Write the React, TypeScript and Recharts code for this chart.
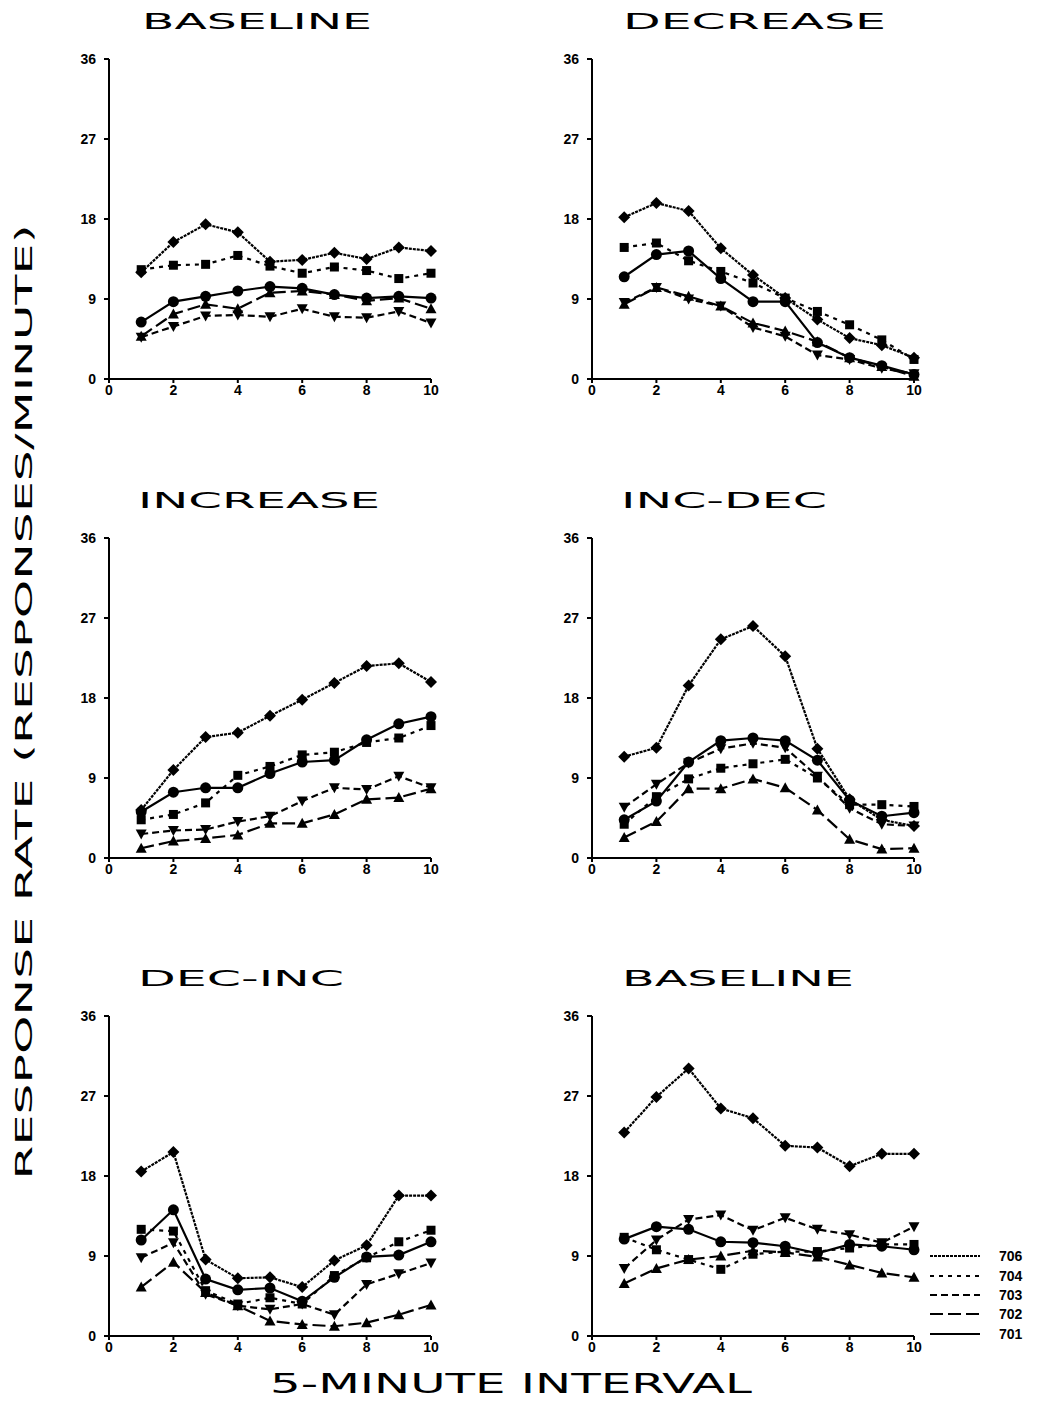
import React from 'react'
import { LineChart, Line, XAxis, YAxis } from 'recharts'

const INTERVALS = [1, 2, 3, 4, 5, 6, 7, 8, 9, 10]
const X_TICKS = [0, 2, 4, 6, 8, 10]
const Y_TICKS = [0, 9, 18, 27, 36]
const SUBJECTS = ['706', '704', '703', '702', '701']

// baseline (first)
const BASE1_706 = [12.0, 15.4, 17.4, 16.5, 13.2, 13.4, 14.2, 13.5, 14.8, 14.4]
const BASE1_704 = [12.3, 12.8, 12.9, 13.9, 12.7, 11.9, 12.6, 12.2, 11.3, 11.9]
const BASE1_703 = [4.7, 5.9, 7.1, 7.2, 7.0, 7.9, 7.0, 6.9, 7.6, 6.3]
const BASE1_702 = [4.8, 7.3, 8.4, 7.9, 9.7, 9.9, 9.5, 8.8, 9.1, 7.9]
const BASE1_701 = [6.4, 8.7, 9.3, 9.9, 10.4, 10.2, 9.5, 9.1, 9.3, 9.1]

// decrease
const DEC_706 = [18.2, 19.8, 18.9, 14.7, 11.7, 9.1, 6.7, 4.6, 3.8, 2.4]
const DEC_704 = [14.8, 15.3, 13.3, 12.1, 10.8, 9.1, 7.6, 6.1, 4.4, 2.2]
const DEC_703 = [8.6, 10.3, 9.0, 8.2, 5.8, 4.8, 2.7, 2.2, 1.2, 0.6]
const DEC_702 = [8.4, 10.3, 9.3, 8.2, 6.3, 5.4, 4.2, 2.4, 1.4, 0.3]
const DEC_701 = [11.5, 14.0, 14.4, 11.3, 8.7, 8.7, 4.1, 2.4, 1.5, 0.5]

// increase
const INC_706 = [5.4, 9.9, 13.6, 14.1, 16.0, 17.8, 19.7, 21.6, 21.9, 19.8]
const INC_704 = [4.3, 4.9, 6.2, 9.3, 10.3, 11.6, 11.9, 13.0, 13.5, 14.9]
const INC_703 = [2.7, 3.1, 3.2, 4.1, 4.7, 6.4, 7.9, 7.7, 9.2, 7.9]
const INC_702 = [1.1, 1.9, 2.2, 2.6, 3.9, 3.9, 4.9, 6.6, 6.8, 7.8]
const INC_701 = [5.2, 7.4, 7.9, 7.9, 9.5, 10.8, 11.0, 13.3, 15.1, 15.9]

// inc-dec
const INCDEC_706 = [11.4, 12.4, 19.4, 24.6, 26.1, 22.7, 12.3, 6.6, 4.3, 3.6]
const INCDEC_704 = [3.8, 6.9, 8.9, 10.1, 10.6, 11.1, 9.0, 6.0, 6.0, 5.8]
const INCDEC_703 = [5.7, 8.3, 10.7, 12.3, 12.9, 12.4, 9.2, 5.6, 3.8, 3.6]
const INCDEC_702 = [2.3, 4.1, 7.8, 7.8, 8.9, 7.9, 5.4, 2.1, 1.0, 1.1]
const INCDEC_701 = [4.3, 6.4, 10.8, 13.2, 13.5, 13.2, 11.0, 6.5, 4.7, 5.1]

// dec-inc
const DECINC_706 = [18.5, 20.7, 8.6, 6.5, 6.6, 5.5, 8.5, 10.2, 15.8, 15.8]
const DECINC_704 = [12.0, 11.8, 5.1, 3.6, 4.3, 3.6, 6.8, 8.8, 10.6, 11.9]
const DECINC_703 = [8.8, 10.5, 4.7, 3.4, 3.0, 3.6, 2.4, 5.8, 7.0, 8.2]
const DECINC_702 = [5.5, 8.3, 4.9, 3.4, 1.7, 1.3, 1.1, 1.5, 2.4, 3.5]
const DECINC_701 = [10.8, 14.2, 6.4, 5.2, 5.4, 3.9, 6.6, 8.9, 9.1, 10.6]

// baseline (return)
const BASE2_706 = [22.9, 26.9, 30.1, 25.6, 24.5, 21.4, 21.2, 19.1, 20.5, 20.5]
const BASE2_704 = [11.1, 9.7, 8.6, 7.5, 9.2, 9.5, 9.5, 9.9, 10.3, 10.3]
const BASE2_703 = [7.6, 10.8, 13.1, 13.6, 11.9, 13.3, 12.0, 11.4, 10.5, 12.3]
const BASE2_702 = [5.9, 7.6, 8.6, 9.0, 9.6, 9.4, 8.9, 8.0, 7.1, 6.6]
const BASE2_701 = [10.9, 12.3, 12.0, 10.6, 10.5, 10.1, 9.3, 10.3, 10.1, 9.7]

const panels = [
  { title: 'BASELINE', left: 60, top: 40, tx: 142, tw: 230, series: [BASE1_706, BASE1_704, BASE1_703, BASE1_702, BASE1_701] },
  { title: 'DECREASE', left: 543, top: 40, tx: 623, tw: 263, series: [DEC_706, DEC_704, DEC_703, DEC_702, DEC_701] },
  { title: 'INCREASE', left: 60, top: 519, tx: 138, tw: 242, series: [INC_706, INC_704, INC_703, INC_702, INC_701] },
  { title: 'INC-DEC', left: 543, top: 519, tx: 621, tw: 206, series: [INCDEC_706, INCDEC_704, INCDEC_703, INCDEC_702, INCDEC_701] },
  { title: 'DEC-INC', left: 60, top: 997, tx: 138, tw: 206, series: [DECINC_706, DECINC_704, DECINC_703, DECINC_702, DECINC_701] },
  { title: 'BASELINE', left: 543, top: 997, tx: 622, tw: 232, series: [BASE2_706, BASE2_704, BASE2_703, BASE2_702, BASE2_701] },
]

const lineStyle: Record<string, { dash?: string; shape: string }> = {
  '706': { dash: '3 1', shape: 'diamond' },
  '704': { dash: '4 5', shape: 'square' },
  '703': { dash: '7 4', shape: 'down' },
  '702': { dash: '13 5', shape: 'up' },
  '701': { shape: 'circle' },
}

function makeDot(shape: string, id: string) {
  return (props: any) => {
    const { cx, cy, index } = props
    const k = `${id}-${index}`
    if (cx == null || cy == null) return <g key={k} />
    switch (shape) {
      case 'diamond':
        return <polygon key={k} points={`${cx},${cy - 6} ${cx + 6},${cy} ${cx},${cy + 6} ${cx - 6},${cy}`} fill="#000" />
      case 'square':
        return <rect key={k} x={cx - 4.5} y={cy - 4.5} width={9} height={9} fill="#000" />
      case 'down':
        return <polygon key={k} points={`${cx - 5.5},${cy - 4.5} ${cx + 5.5},${cy - 4.5} ${cx},${cy + 5.5}`} fill="#000" />
      case 'up':
        return <polygon key={k} points={`${cx - 5.5},${cy + 4.5} ${cx + 5.5},${cy + 4.5} ${cx},${cy - 5.5}`} fill="#000" />
      default:
        return <circle key={k} cx={cx} cy={cy} r={5.5} fill="#000" />
    }
  }
}

const tickStyle = { fontSize: 14, fontWeight: 700, fill: '#000', fontFamily: 'Liberation Sans, Arial, sans-serif' }

function Panel({ idx }: { idx: number }) {
  const p = panels[idx]
  const rows = INTERVALS.map((x, i) => {
    const r: any = { x }
    SUBJECTS.forEach((s, j) => (r['s' + s] = p.series[j][i]))
    return r
  })
  return (
    <div style={{ position: 'absolute', left: p.left, top: p.top }}>
      <LineChart width={380} height={369} data={rows} margin={{ top: 19, right: 9, left: 0, bottom: 0 }}>
        <XAxis
          type="number"
          dataKey="x"
          domain={[0, 10]}
          ticks={X_TICKS}
          height={30}
          axisLine={{ stroke: '#000', strokeWidth: 2 }}
          tickLine={{ stroke: '#000', strokeWidth: 2 }}
          tickSize={4}
          tickMargin={2}
          tick={tickStyle}
        />
        <YAxis
          type="number"
          domain={[0, 36]}
          ticks={Y_TICKS}
          width={49}
          axisLine={{ stroke: '#000', strokeWidth: 2 }}
          tickLine={{ stroke: '#000', strokeWidth: 2 }}
          tickSize={5}
          tickMargin={8}
          tick={tickStyle}
        />
        {SUBJECTS.map((s) => (
          <Line
            key={s}
            type="linear"
            dataKey={'s' + s}
            stroke="#000"
            strokeWidth={2.2}
            strokeDasharray={lineStyle[s].dash}
            dot={makeDot(lineStyle[s].shape, `${idx}-${s}`)}
            activeDot={false}
            isAnimationActive={false}
          />
        ))}
      </LineChart>
    </div>
  )
}

const legendRows = [1256, 1276, 1295, 1314, 1334]
const titleFont = 'DejaVu Sans, Verdana, sans-serif'

export default function App() {
  return (
    <div style={{ position: 'absolute', left: 0, top: 0, width: 1042, height: 1423, background: '#fff', overflow: 'hidden' }}>
      {panels.map((_, i) => (
        <Panel key={i} idx={i} />
      ))}
      <svg width={1042} height={1423} style={{ position: 'absolute', left: 0, top: 0, pointerEvents: 'none' }}>
        {panels.map((p, i) => (
          <text
            key={i}
            x={p.tx}
            y={p.top - 11}
            fontFamily={titleFont}
            fontSize={22}
            textLength={p.tw}
            lengthAdjust="spacingAndGlyphs"
            fill="#000"
          >
            {p.title}
          </text>
        ))}
        <text
          x={0}
          y={0}
          transform="translate(32,702) rotate(-90)"
          textAnchor="middle"
          fontFamily={titleFont}
          fontSize={23}
          textLength={955}
          lengthAdjust="spacingAndGlyphs"
          fill="#000"
        >
          RESPONSE RATE (RESPONSES/MINUTE)
        </text>
        <text
          x={270}
          y={1393}
          fontFamily={titleFont}
          fontSize={27}
          textLength={482}
          lengthAdjust="spacingAndGlyphs"
          fill="#000"
        >
          5-MINUTE INTERVAL
        </text>
        {SUBJECTS.map((s, i) => (
          <g key={s}>
            <line x1={930} x2={980} y1={legendRows[i]} y2={legendRows[i]} stroke="#000" strokeWidth={2} strokeDasharray={lineStyle[s].dash} />
            <text x={999} y={legendRows[i] + 5} fontSize={14} fontWeight={700} fontFamily="Liberation Sans, Arial, sans-serif" fill="#000">
              {s}
            </text>
          </g>
        ))}
      </svg>
    </div>
  )
}
